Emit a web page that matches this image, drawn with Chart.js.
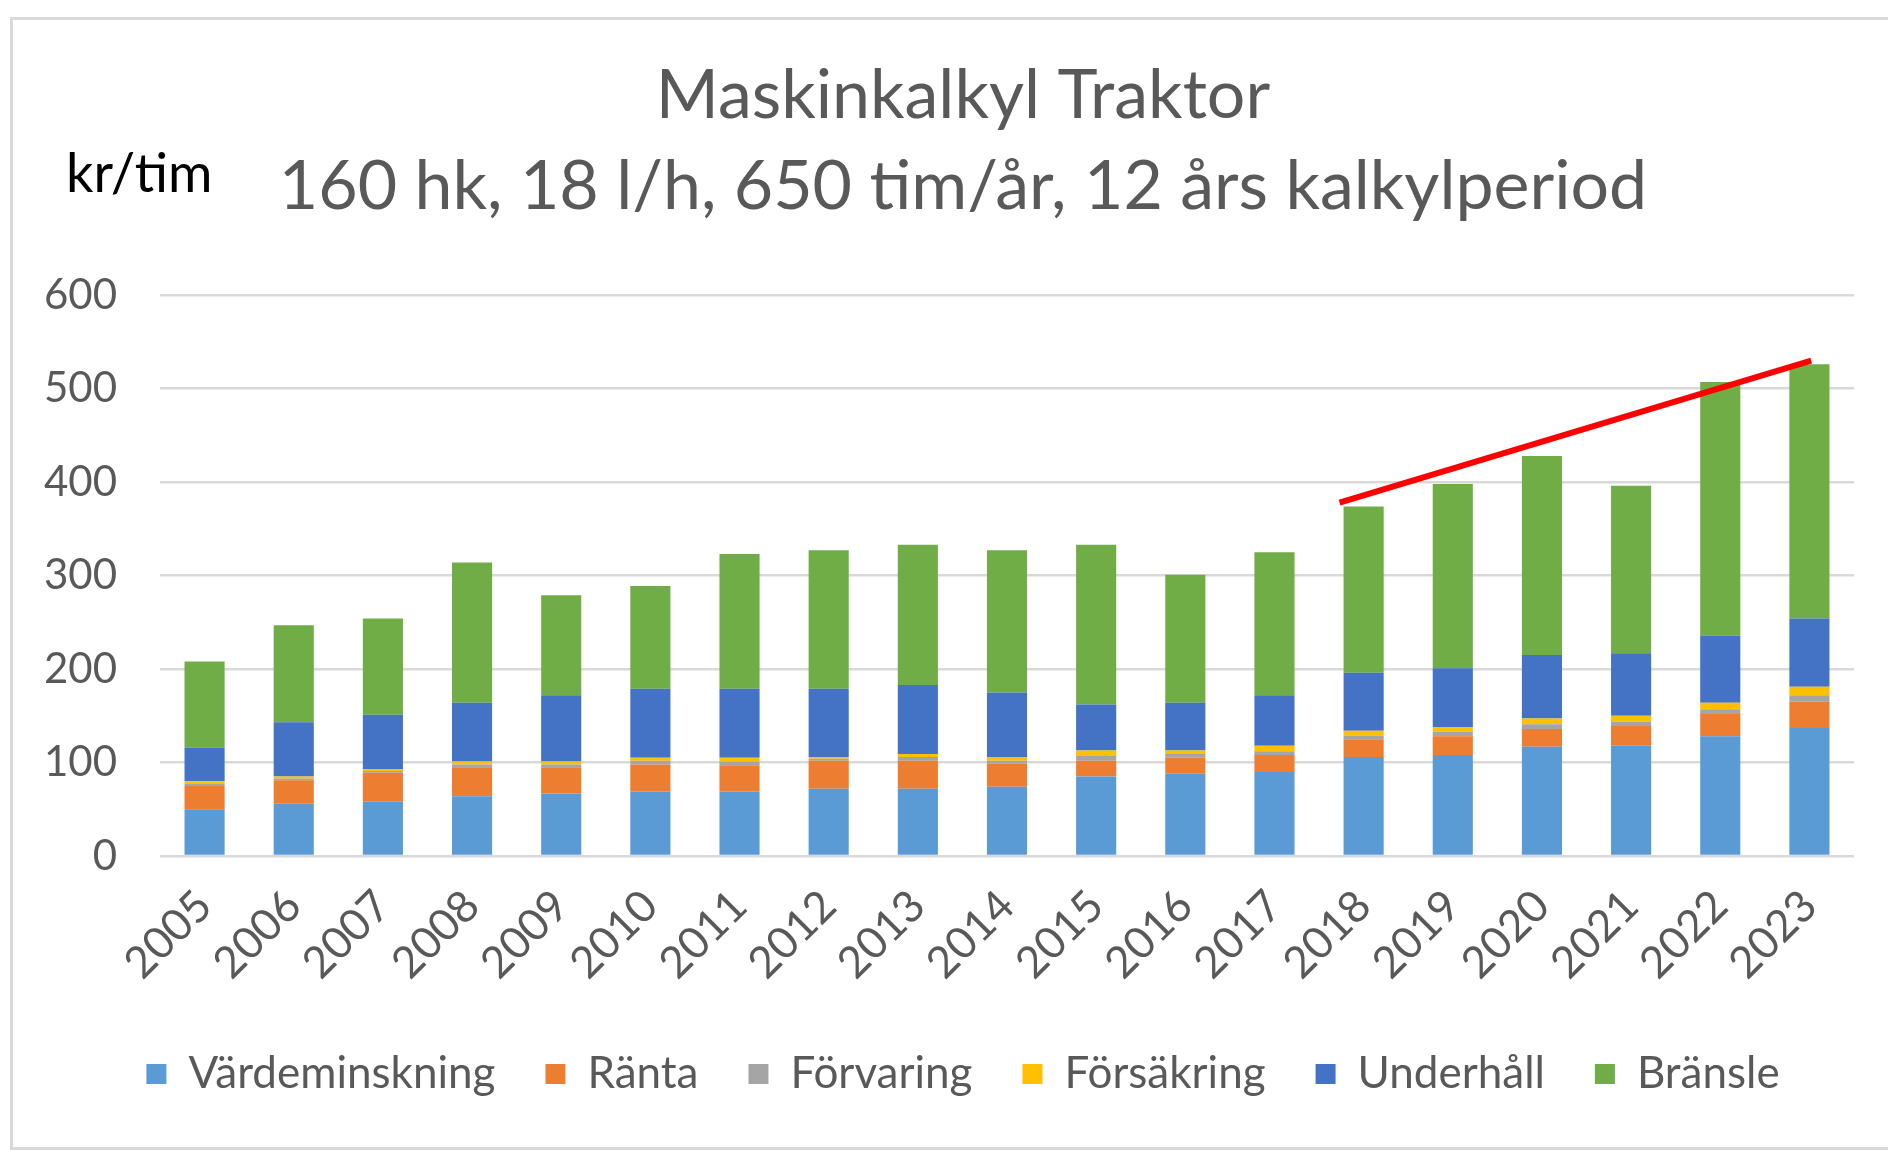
<!DOCTYPE html>
<html>
<head>
<meta charset="utf-8">
<title>Maskinkalkyl Traktor</title>
<script src="https://cdn.jsdelivr.net/npm/chart.js@4.4.1/dist/chart.umd.min.js"></script>
<style>
    html, body { margin: 0; padding: 0; background: #fff; overflow: hidden; }
    #frame {
        position: absolute; left: 10px; top: 17px;
        width: 1900px; height: 1127px;
        border-left: 3px solid #d9d9d9;
        border-top: 3px solid #d9d9d9;
        border-bottom: 3px solid #d9d9d9;
    }
    #box { position: absolute; left: 0; top: 0; width: 1875px; height: 1127px; }
</style>
</head>
<body>
<div id="frame"><div id="box"><canvas id="cost-chart"></canvas></div></div>
<script>
var years = ['2005', '2006', '2007', '2008', '2009', '2010', '2011', '2012', '2013', '2014',
             '2015', '2016', '2017', '2018', '2019', '2020', '2021', '2022', '2023'];

// kr/tim per kostnadspost
var vardeminskning = [50, 56, 58, 64, 67, 69, 69, 72, 72, 74, 85, 88, 90, 106, 108, 117, 118, 128, 137];
var ranta          = [25, 25, 31, 31, 28, 29, 28, 30, 30, 25, 17, 17, 18, 19, 20, 19, 21, 24, 28];
var forvaring      = [2, 2, 2, 3, 3, 4, 4, 2, 4, 3, 5, 4, 4, 4, 5, 5, 5, 5, 7];
var forsakring     = [3, 2, 2, 3, 3, 3, 4, 2, 3, 4, 6, 4, 6, 5, 5, 6, 6, 7, 9];
var underhall      = [36, 58, 58, 63, 71, 74, 74, 73, 74, 69, 49, 51, 54, 62, 63, 68, 67, 72, 73];
var bransle        = [92, 104, 103, 150, 107, 110, 144, 148, 150, 152, 171, 137, 153, 178, 197, 213, 179, 271, 272];

// röd trendlinje (x = kategoriindex)
var trendX = [12.73, 18.02];
var trendY = [378, 530];

var yTicks = [0, 100, 200, 300, 400, 500, 600];

var grey = '#595959';
var fontFam = 'Lato, "Open Sans", sans-serif';

var trendPoints = [];
for (var i in trendX) {
    trendPoints.push({x: trendX[i], y: trendY[i]});
}

function barSet(label, data, color) {
    return {
        type: 'bar',
        label: label,
        data: data,
        backgroundColor: color,
        borderWidth: 0,
        stack: 'kost',
        grouped: false,
        barPercentage: 0.45,
        categoryPercentage: 1,
        order: 2
    };
}

// "kr/tim" uppe till vänster
var unitLabel = {
    id: 'unitLabel',
    afterLayout: function(chart) {
        // låt y-etiketterna synas till vänster om padding
        chart.scales.y.left = 0;
    },
    afterDraw: function(chart) {
        var c = chart.ctx;
        c.save();
        c.fillStyle = '#000';
        c.font = '54px ' + fontFam;
        c.textAlign = 'left';
        c.textBaseline = 'middle';
        c.fillText('kr/tim', 53, 155);
        c.restore();
    }
};

var ctx = document.getElementById('cost-chart');
var myChart = new Chart(ctx, {
    data: {
        labels: years,
        datasets: [
            barSet('Värdeminskning', vardeminskning, '#5B9BD5'),
            barSet('Ränta', ranta, '#ED7D31'),
            barSet('Förvaring', forvaring, '#A5A5A5'),
            barSet('Försäkring', forsakring, '#FFC000'),
            barSet('Underhåll', underhall, '#4472C4'),
            barSet('Bränsle', bransle, '#70AD47'),
            {
                type: 'line',
                label: 'trend',
                data: trendPoints,
                xAxisID: 'x2',
                stack: 'trend',
                borderColor: '#FF0000',
                borderWidth: 6,
                pointRadius: 0,
                fill: false,
                order: 1
            }
        ]
    },
    options: {
        responsive: true,
        maintainAspectRatio: false,
        animation: false,
        layout: { padding: { left: 59, right: 34, top: 0, bottom: 41 } },
        plugins: {
            title: {
                display: true,
                text: 'Maskinkalkyl Traktor',
                color: grey,
                font: { family: fontFam, size: 68, weight: 'normal' },
                padding: { top: 35, bottom: 0 }
            },
            subtitle: {
                display: true,
                text: '160 hk, 18 l/h, 650 tim/år, 12 års kalkylperiod',
                color: grey,
                font: { family: fontFam, size: 68, weight: 'normal' },
                padding: { top: 10, bottom: 67 }
            },
            legend: {
                position: 'bottom',
                labels: {
                    color: grey,
                    boxWidth: 20,
                    boxHeight: 20,
                    padding: 50,
                    font: { family: fontFam, size: 44 },
                    filter: function(item) { return item.text !== 'trend'; }
                }
            },
            tooltip: { enabled: false }
        },
        scales: {
            x: {
                type: 'category',
                stacked: true,
                offset: true,
                grid: { display: false, offset: true },
                border: { display: false },
                ticks: {
                    color: grey,
                    font: { family: fontFam, size: 44 },
                    maxRotation: 45,
                    minRotation: 45,
                    padding: 16
                },
                afterFit: function(scale) { scale.height = 146; }
            },
            x2: {
                type: 'linear',
                display: false,
                min: -0.5,
                max: 18.5
            },
            y: {
                stacked: true,
                min: 0,
                max: 600,
                afterBuildTicks: function(scale) {
                    scale.ticks = yTicks.map(function(v) { return {value: v}; });
                },
                grid: { color: '#d9d9d9', lineWidth: 2.5, drawTicks: false },
                border: { display: false },
                ticks: {
                    color: grey,
                    font: { family: fontFam, size: 42 },
                    padding: 43
                },
                afterFit: function(scale) { scale.width = 88; }
            }
        }
    },
    plugins: [unitLabel]
});
</script>
</body>
</html>
